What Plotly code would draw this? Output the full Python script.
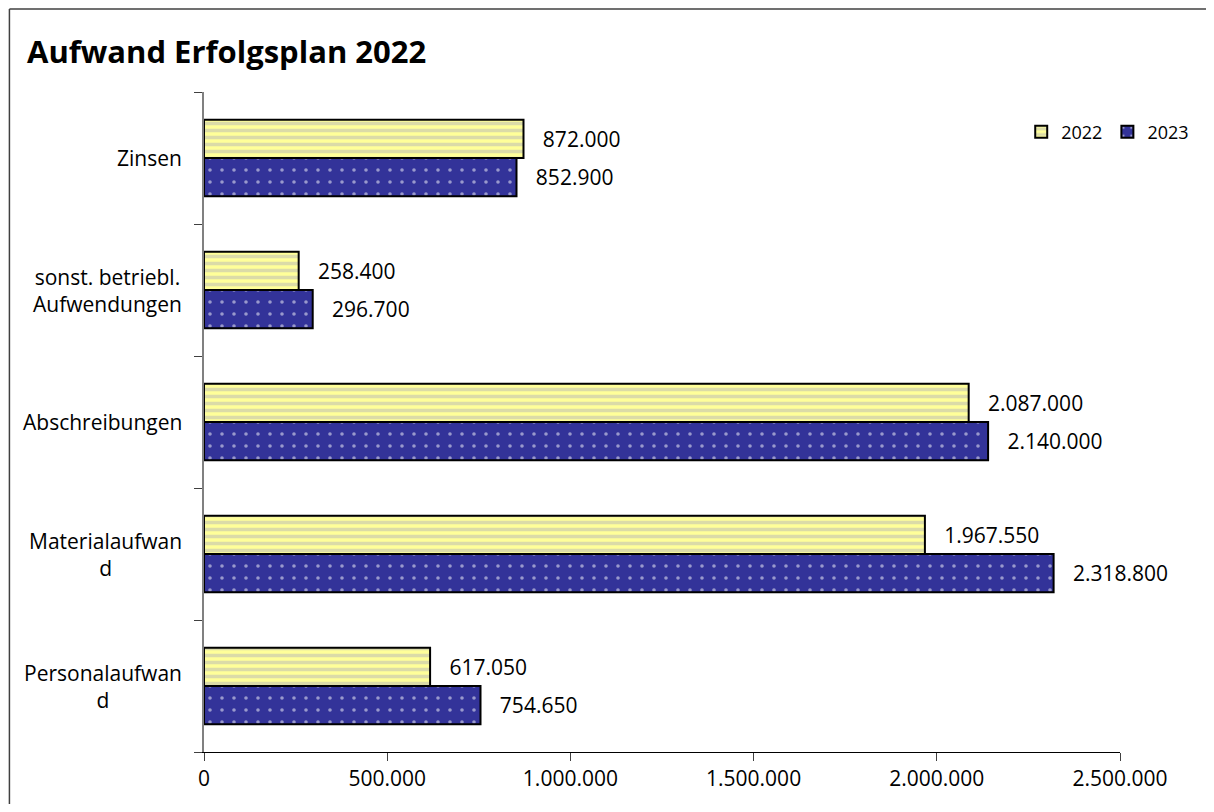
import plotly.graph_objects as go

categories = ["Personalaufwand", "Materialaufwand", "Abschreibungen",
              "sonst. betriebl. Aufwendungen", "Zinsen"]
category_labels = ["Personalaufwan<br>d", "Materialaufwan<br>d", "Abschreibungen",
                   "sonst. betriebl.<br>Aufwendungen", "Zinsen"]
values_2022 = [617050, 1967550, 2087000, 258400, 872000]
values_2023 = [754650, 2318800, 2140000, 296700, 852900]
tick_values = [0, 500000, 1000000, 1500000, 2000000, 2500000]
tick_labels = ["0", "500.000", "1.000.000", "1.500.000", "2.000.000", "2.500.000"]

FONT = "Open Sans"
OFF = 8  # page body margin
W, H = 1214 - 2 * OFF, 812 - 2 * OFF
# target screen positions of plot area
PX0, PX1, PY0, PY1 = 204, 1122, 92, 752
L, T = PX0 - OFF, PY0 - OFF
R, B = W + OFF - PX1, H + OFF - PY1
pw, ph = PX1 - PX0, PY1 - PY0

fig = go.Figure()
pad = "\u00a0\u00a0\u00a0"
fig.add_trace(go.Bar(
    name="2023", y=categories, x=values_2023, orientation="h",
    marker=dict(color="#333399", line=dict(color="black", width=2),
                pattern=dict(shape=".", fgcolor="white", size=12, solidity=0.07)),
    texttemplate=pad + "%{x:,.0f}", textposition="outside",
    textfont=dict(family=FONT, size=21, color="black"),
    cliponaxis=False, constraintext="none",
))
fig.add_trace(go.Bar(
    name="2022", y=categories, x=values_2022, orientation="h",
    marker=dict(color="#FFFF99", line=dict(color="black", width=2),
                pattern=dict(shape="-", fgcolor="#B8B8B8", size=7, solidity=0.5)),
    texttemplate=pad + "%{x:,.0f}", textposition="outside",
    textfont=dict(family=FONT, size=21, color="black"),
    cliponaxis=False, constraintext="none",
))

annotations = []
for cat, lab in zip(categories, category_labels):
    annotations.append(dict(
        x=0, xref="paper", y=cat, yref="y", text=lab, showarrow=False,
        xanchor="right", yanchor="middle", align="center", xshift=-20,
        font=dict(family=FONT, size=21, color="black"),
    ))

bx0 = (9 - PX0) / pw
by1 = (PY1 - 9) / ph
fig.update_layout(
    width=W, height=H,
    margin=dict(l=L, r=R, t=T, b=B),
    paper_bgcolor="white", plot_bgcolor="white",
    separators=",.",
    barmode="group", bargap=0.42, bargroupgap=0,
    title=dict(text="<b>Aufwand Erfolgsplan 2022</b>", x=(27 - OFF) / W, xanchor="left",
               xref="container", y=1 - (52 - OFF) / H, yanchor="middle", yref="container",
               font=dict(family=FONT, size=31, color="black")),
    legend=dict(orientation="h", x=(1023 - PX0) / pw, xanchor="left",
                y=(PY1 - 132) / ph, yanchor="middle", traceorder="reversed",
                font=dict(family=FONT, size=18, color="black"),
                bgcolor="rgba(0,0,0,0)"),
    showlegend=True,
    annotations=annotations,
    shapes=[
        dict(type="line", xref="paper", yref="paper", x0=bx0, x1=1.6, y0=by1, y1=by1,
             line=dict(color="#404040", width=1.5), layer="below"),
        dict(type="line", xref="paper", yref="paper", x0=bx0, x1=bx0, y0=-0.3, y1=by1,
             line=dict(color="#404040", width=1.5), layer="below"),
    ],
)
fig.update_xaxes(range=[0, 2500000], tickvals=tick_values, ticktext=tick_labels,
                 showgrid=False, zeroline=False, showline=True, linecolor="black",
                 linewidth=1, ticks="outside", ticklen=8, tickcolor="#404040",
                 tickfont=dict(family=FONT, size=21, color="black"))
fig.update_yaxes(showticklabels=False, showgrid=False, zeroline=False, showline=True,
                 linecolor="#808080", linewidth=2, ticks="outside", ticklen=8,
                 tickcolor="#404040", tickson="boundaries",
                 categoryorder="array", categoryarray=categories)

fig.write_html("out.html")
